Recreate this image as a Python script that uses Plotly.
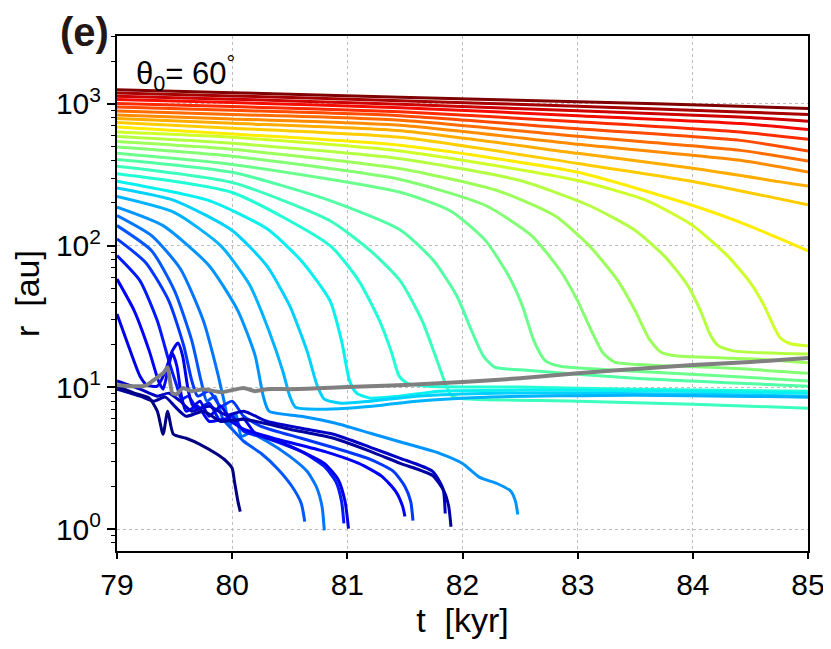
import numpy as np
import plotly.graph_objects as go

# ---------------- data (t in kyr, r in au) ----------------
# top group: trajectories that do not collapse before 85 kyr
t00 = [79, 80, 81.46, 83, 84.41, 85]; r00 = [1256, 1200, 1115, 1037, 963, 928]
t01 = [79, 80, 81.46, 83, 84.41, 85]; r01 = [1196, 1139, 1053, 963, 878, 841]
t02 = [79, 80, 81.46, 83, 84.41, 85]; r02 = [1134, 1080, 995, 895, 809, 755]
t03 = [79, 80, 81.46, 83, 84.41, 85]; r03 = [1074, 1021, 940, 825, 727, 659]
t04 = [79, 80, 81.46, 83, 84.41, 85]; r04 = [1006, 957, 881, 748, 633, 562]
t05 = [79, 80, 81.46, 83, 84.41, 85]; r05 = [952, 902, 825, 668, 553, 465]
t06 = [79, 80, 81.46, 83, 84.41, 85]; r06 = [892, 843, 767, 591, 470, 395]
t07 = [79, 80, 81.46, 83, 84.41, 85]; r07 = [836, 784, 707, 519, 400, 330]
t08 = [79, 80, 81.46, 83, 84, 85]; r08 = [788, 730, 646, 448, 351, 263]
t09 = [79, 80, 81.46, 83, 84, 85]; r09 = [739, 674, 581, 380, 284, 194]
t10 = [79, 80, 81.46, 83, 84, 84.5, 85]; r10 = [687, 613, 510, 329, 192, 137, 92]

# collapsing trajectories that settle near 10-20 au
t11 = [79, 80, 81.46, 83, 83.6, 84.0, 84.3, 84.5, 84.62, 84.7, 84.76, 84.84, 85]
r11 = [633, 581, 465, 288, 208, 138.5, 85, 54.7, 37.6, 27.2, 22.3, 20.4, 19.6]
t12 = [79, 80, 81.46, 82.5, 83.1, 83.5, 83.75, 83.95, 84.07, 84.15, 84.22, 84.35, 85]
r12 = [588, 527, 411, 288, 192, 128, 85, 53.2, 34.3, 23.6, 19.7, 18.1, 17.2]
t13 = [79, 80, 81.46, 82.3, 82.8, 83.1, 83.35, 83.5, 83.62, 83.72, 83.85, 84.5, 85]
r13 = [542, 478, 349, 245, 163, 100, 56.5, 34.7, 22.0, 17.8, 16.7, 15.9, 14.9]
t14 = [79, 80, 81.46, 82.2, 82.6, 82.85, 83.0, 83.12, 83.22, 83.32, 83.6, 84.3, 85]
r14 = [496, 427, 293, 192, 117.7, 66.5, 40.8, 25.0, 17.5, 15.1, 14.4, 13.7, 12.6]
t15 = [79, 80, 81.46, 81.9, 82.2, 82.4, 82.52, 82.62, 82.72, 82.85, 83.5, 84.3, 85]
r15 = [448, 374, 238, 175, 108.5, 61.3, 37.6, 21.3, 15.4, 14.1, 13.0, 12.0, 11.1]
t16 = [79, 80, 80.85, 81.46, 81.75, 81.95, 82.08, 82.18, 82.28, 82.5, 83.5, 85]
r16 = [406, 329, 208, 129, 78.3, 44.3, 25.0, 16.7, 13.9, 13.3, 11.6, 10.2]
t17 = [79, 80, 80.85, 81.2, 81.46, 81.65, 81.78, 81.86, 81.92, 82.1, 83, 84, 85]
r17 = [364, 279, 150, 92.2, 56.5, 29.5, 15.4, 10.2, 8.54, 8.26, 8.0, 7.6, 7.14]
t18 = [79, 80, 80.85, 81.1, 81.28, 81.38, 81.45, 81.52, 81.7, 82.5, 83.5, 85]
r18 = [322, 237, 100, 56.5, 29.5, 18.1, 12.0, 10.7, 10.2, 10.05, 9.72, 9.41]
t19 = [79, 79.8, 80.3, 80.6, 80.85, 80.95, 81.02, 81.08, 81.2, 81.45, 81.8, 82.5, 84, 85]
r19 = [285, 208, 132, 78.3, 40.8, 21.3, 11.1, 9.11, 8.4, 8.68, 9.41, 9.57, 9.41, 9.11]

# early collapsing trajectories
t20 = [79, 79.5, 80.0, 80.3, 80.5, 80.65, 80.74, 80.8, 80.95, 81.2, 81.6, 82.3, 84, 85]
r20 = [255, 208, 128, 72.2, 37.6, 18.1, 10.2, 8.26, 7.74, 8.0, 8.68, 9.11, 8.97, 8.68]
t21 = [79, 79.5, 79.9, 80.15, 80.32, 80.44, 80.5, 80.55, 80.75, 81.0, 81.3, 81.6, 82.2, 83.5, 85]
r21 = [222, 171, 100, 53.2, 25.0, 13.0, 8.68, 7.25, 7.02, 7.14, 7.49, 8.0, 8.54, 8.82, 8.54]
t22 = [79, 79.4, 79.8, 80.05, 80.2, 80.27, 80.32, 80.6, 80.9, 81.2, 81.5, 81.8, 82.0, 82.15, 82.3, 82.42, 82.46, 82.48]
r22 = [187, 138.5, 72.2, 34.7, 16.7, 8.68, 6.8, 6.26, 5.59, 4.75, 4.04, 3.43, 2.91, 2.32, 2.10, 1.85, 1.57, 1.27]
t23 = [79, 79.3, 79.55, 79.75, 79.87, 79.93, 79.98, 80.03, 80.08, 80.15, 80.3, 80.5, 80.65, 80.73, 80.78, 80.8]
r23 = [163, 117.7, 68.7, 29.5, 13.0, 8.0, 5.32, 6.58, 4.52, 4.75, 4.17, 3.26, 2.56, 2.0, 1.45, 0.98]
t24 = [79, 79.3, 79.5, 79.65, 79.73, 79.78, 79.85, 79.92, 80.0, 80.1, 80.25, 80.4, 80.52, 80.6, 80.63]
r24 = [138.5, 92.2, 48.0, 21.3, 11.1, 8.0, 8.68, 5.97, 5.07, 4.17, 3.43, 2.64, 2.0, 1.52, 1.13]
t25 = [79, 79.25, 79.45, 79.58, 79.65, 79.7, 79.8, 79.9, 80.0, 80.1, 80.25, 80.6, 80.9, 81.2, 81.4, 81.5, 81.55, 81.57]
r25 = [111.5, 75.8, 40.8, 19.6, 11.1, 8.68, 9.41, 7.37, 8.0, 6.26, 5.32, 4.38, 3.72, 3.11, 2.56, 2.0, 1.57, 1.15]
t26 = [79, 79.2, 79.35, 79.45, 79.52, 79.56, 79.62, 79.7, 79.8, 79.9, 80.0, 80.1, 80.3, 80.6, 80.8, 80.9, 80.95, 80.97]
r26 = [85, 56.5, 29.5, 15.4, 10.2, 8.26, 8.68, 7.02, 7.74, 5.77, 6.26, 4.91, 4.38, 3.54, 2.77, 2.17, 1.57, 1.1]
t27 = [79, 79.15, 79.28, 79.36, 79.4, 79.44, 79.48, 79.52, 79.56, 79.6, 79.7, 79.8, 79.95, 80.1, 80.4, 80.8, 81.1, 81.3, 81.42, 81.48, 81.5]
r27 = [58.1, 34.7, 18.1, 11.1, 9.72, 13.0, 17.5, 14.1, 8.68, 6.8, 7.37, 5.77, 5.97, 5.07, 4.29, 3.54, 2.91, 2.36, 1.85, 1.45, 1.23]
t28 = [79, 79.1, 79.2, 79.26, 79.35, 79.42, 79.48, 79.53, 79.57, 79.62, 79.66, 79.72, 79.8, 79.9, 80.0, 80.1, 80.2, 80.4, 80.6, 80.8, 80.92, 80.98, 81.01]
r28 = [32.9, 19.6, 12.0, 10.4, 10.2, 13.0, 18.1, 20.6, 16.7, 9.41, 7.37, 8.0, 6.26, 7.37, 5.77, 5.97, 4.75, 4.17, 3.54, 2.91, 2.24, 1.57, 1.01]
t29 = [79, 79.2, 79.35, 79.45, 79.55, 79.65, 79.8, 79.95, 80.1, 80.3, 80.6, 80.88, 81.2, 81.46, 81.74, 81.83, 81.85]
r29 = [11.1, 9.72, 8.68, 9.11, 8.0, 6.8, 7.37, 6.37, 6.8, 5.77, 5.15, 4.67, 3.78, 3.16, 2.56, 1.94, 1.29]
t30 = [79, 79.2, 79.32, 79.42, 79.5, 79.6, 79.75, 79.9, 80.1, 80.5, 80.88, 81.2, 81.46, 81.74, 81.84, 81.88, 81.9]
r30 = [9.72, 8.68, 8.0, 8.54, 7.37, 6.26, 6.8, 5.77, 5.97, 5.07, 4.38, 3.54, 2.91, 2.39, 1.85, 1.45, 1.04]
t31 = [79, 79.15, 79.28, 79.35, 79.4, 79.44, 79.49, 79.6, 79.72, 79.87, 79.95, 80.0, 80.02, 80.05, 80.07]
r31 = [10.2, 9.11, 8.4, 6.8, 4.67, 6.8, 4.67, 4.38, 3.97, 3.37, 3.01, 2.69, 2.17, 1.57, 1.33]

# grey reference curve
t_grey = [79, 79.1, 79.25, 79.33, 79.4, 79.44, 79.46, 79.48, 79.52, 79.57, 79.65, 79.75, 79.9, 80.0,
          80.1, 80.2, 80.3, 80.5, 80.8, 81.0, 81.5, 82.0, 82.5, 83.0, 83.5, 84.0, 84.5, 85.0]
r_grey = [10.4, 10.2, 10.3, 11.45, 12.6, 13.9, 11.1, 9.11, 8.97, 9.89, 9.41, 9.72, 9.26, 9.57,
          9.89, 9.41, 9.72, 9.72, 9.89, 10.05, 10.4, 10.9, 11.6, 12.6, 13.5, 14.4, 15.1, 16.1]

# colour level of each trajectory on the jet colormap (top = 1, bottom = 0)
color_levels = [1.0, 0.966, 0.932, 0.898, 0.864, 0.83, 0.796, 0.762, 0.728, 0.694, 0.66,
                0.6, 0.57, 0.54, 0.51, 0.48, 0.45, 0.42, 0.39, 0.36, 0.33, 0.30, 0.27,
                0.24, 0.21, 0.18, 0.15, 0.12, 0.09, 0.06, 0.03, 0.0]

x_ticks = [79, 80, 81, 82, 83, 84, 85]
y_ticks = [1, 10, 100, 1000]
y_ticktext = ["10<sup>0</sup>", "10<sup>1</sup>", "10<sup>2</sup>", "10<sup>3</sup>"]
y_minor = [0.8, 0.9, 2, 3, 4, 5, 6, 7, 8, 9, 20, 30, 40, 50, 60, 70, 80, 90,
           200, 300, 400, 500, 600, 700, 800, 900, 2000, 3000]

lines = [(t00, r00), (t01, r01), (t02, r02), (t03, r03), (t04, r04), (t05, r05), (t06, r06),
         (t07, r07), (t08, r08), (t09, r09), (t10, r10), (t11, r11), (t12, r12), (t13, r13),
         (t14, r14), (t15, r15), (t16, r16), (t17, r17), (t18, r18), (t19, r19), (t20, r20),
         (t21, r21), (t22, r22), (t23, r23), (t24, r24), (t25, r25), (t26, r26), (t27, r27),
         (t28, r28), (t29, r29), (t30, r30), (t31, r31)]


def jet(v):
    r = np.interp(v, [0, 0.35, 0.66, 0.89, 1], [0, 0, 1, 1, 0.5])
    g = np.interp(v, [0, 0.125, 0.375, 0.64, 0.91, 1], [0, 0, 1, 1, 0, 0])
    b = np.interp(v, [0, 0.11, 0.34, 0.65, 1], [0.5, 1, 1, 0, 0])
    return "rgb(%d,%d,%d)" % (round(r * 255), round(g * 255), round(b * 255))


fig = go.Figure()
for (tt, rr), lv in zip(lines, color_levels):
    fig.add_trace(go.Scatter(x=tt, y=rr, mode="lines",
                             line=dict(color=jet(lv), width=3, shape="spline", smoothing=0.6),
                             hoverinfo="skip"))
fig.add_trace(go.Scatter(x=t_grey, y=r_grey, mode="lines",
                         line=dict(color="rgb(128,128,128)", width=4, shape="spline", smoothing=0.5),
                         hoverinfo="skip"))

FONT = "Liberation Sans"
# the page body adds an 8 px offset, so the figure is 8 px smaller and shifted
fig.update_layout(
    width=823, height=641,
    margin=dict(l=109, r=23, t=28, b=98, autoexpand=False),
    plot_bgcolor="white", paper_bgcolor="white",
    showlegend=False,
    font=dict(family=FONT, color="black"),
)
fig.update_xaxes(
    range=[79, 85], tickmode="array", tickvals=x_ticks, automargin=False,
    ticks="outside", ticklen=6, tickwidth=1.5, tickcolor="black",
    showline=True, linewidth=2, linecolor="black", mirror=True,
    showgrid=True, gridcolor="#bdbdbd", griddash="dot", gridwidth=1,
    zeroline=False, tickfont=dict(size=30, family=FONT),
    title=dict(text="t  [kyr]", font=dict(size=34, family=FONT), standoff=6),
)
fig.update_yaxes(
    type="log", range=[-0.154, 3.479], automargin=False,
    tickmode="array", tickvals=y_ticks, ticktext=y_ticktext,
    ticks="outside", ticklen=8, tickwidth=1.5, tickcolor="black",
    minor=dict(tickmode="array", tickvals=y_minor, ticks="outside", ticklen=4,
               tickwidth=1.2, tickcolor="black", showgrid=False),
    showline=True, linewidth=2, linecolor="black", mirror=True,
    showgrid=True, gridcolor="#bdbdbd", griddash="dot", gridwidth=1,
    zeroline=False, tickfont=dict(size=30, family=FONT),
    title=dict(text="r  [au]", font=dict(size=34, family=FONT), standoff=14),
)
fig.add_annotation(text="<b>(e)</b>", xref="paper", yref="paper", x=-0.086, y=1.054,
                   xanchor="left", yanchor="top", showarrow=False,
                   font=dict(size=40, family=FONT, color="#231815"))
fig.add_annotation(text="θ<sub>0</sub>= 60<sup>°</sup>", xref="paper", yref="paper",
                   x=0.024, y=0.975, xanchor="left", yanchor="top", showarrow=False,
                   font=dict(size=31, family=FONT, color="black"))

fig.write_html("out.html")
